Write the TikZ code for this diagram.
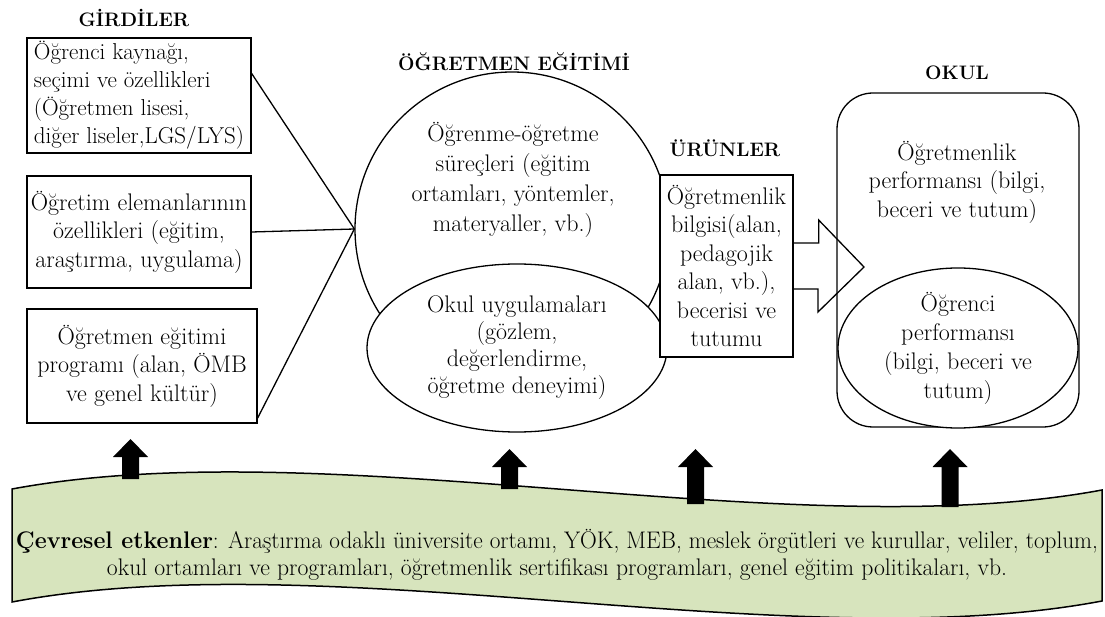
\documentclass[tikz,border=0pt]{standalone}
\usepackage{fontspec}
\usepackage{graphicx}
\usetikzlibrary{shapes.geometric}
\definecolor{wavegreen}{HTML}{D7E4BD}
\newcommand{\myBody}{\fontsize{24}{28.5}\selectfont}
\newcommand{\myTitle}{\fontsize{19.5}{22}\selectfont\bfseries}
\newcommand{\UpArrowBlk}[3]{\fill (#1-8.5,#3) -- (#1-8.5,#2+18) -- (#1-17.5,#2+18) -- (#1,#2) -- (#1+17.5,#2+18) -- (#1+8.5,#2+18) -- (#1+8.5,#3) -- cycle;}
\begin{document}
\begin{tikzpicture}[x=1pt,y=-1pt,
  box/.style={draw, line width=1.3pt, fill=white, inner sep=0pt, align=center, font=\myBody},
  title/.style={font=\myTitle, inner sep=0pt},
  txt/.style={font=\myBody, align=center, inner sep=0pt},
  shp/.style={draw, line width=1.3pt, fill=white, inner sep=0pt},
  conn/.style={line width=1.3pt}]
\useasboundingbox (0,0) rectangle (1105,617);

% titles
\node[title] (tgir) at (134,18) {GİRDİLER};
\node[title] (togr) at (514,62) {ÖĞRETMEN EĞİTİMİ};
\node[title] (turu) at (725,148) {ÜRÜNLER};
\node[title] (tokul) at (957,73) {OKUL};

% input boxes
\node[box, minimum width=224pt, minimum height=115pt, font=\fontsize{23}{28}\selectfont] (b1) at (139,95.5)
  {\raisebox{-4pt}{\begin{tabular}{@{}l@{}}Öğrenci kaynağı,\\seçimi ve özellikleri\\(Öğretmen lisesi,\\diğer liseler,LGS/LYS)\end{tabular}}};
\node[box, minimum width=224pt, minimum height=112pt] (b2) at (139,232)
  {Öğretim elemanlarının\\özellikleri (eğitim,\\araştırma, uygulama)};
\node[box, minimum width=230pt, minimum height=114pt] (b3) at (142,366)
  {Öğretmen eğitimi\\programı (alan, ÖMB\\ve genel kültür)};

% big circle
\node[shp, circle, minimum size=314pt] (c) at (512,229) {};
\node[txt, font=\fontsize{24}{30}\selectfont] (ctext) at (513,180)
  {Öğrenme-öğretme\\süreçleri (eğitim\\ortamları, yöntemler,\\materyaller, vb.)};

% connectors
\draw[conn] ([yshift=22pt]b1.east) -- (c.west);
\draw[conn] (b2.east) -- (c.west);
\draw[conn] ([yshift=-52pt]b3.east) -- (c.west);

% small ellipse
\node[shp, ellipse, minimum width=300pt, minimum height=168pt, align=center,
  font=\fontsize{24}{27}\selectfont] (e) at (517,348)
  {Okul uygulamaları\\(gözlem,\\değerlendirme,\\öğretme deneyimi)};

% products box
\node[box, minimum width=133pt, minimum height=182pt] (b4) at (726.5,266)
  {Öğretmenlik\\bilgisi(alan,\\pedagojik\\alan, vb.),\\becerisi ve\\tutumu};

% block arrow
\coordinate (tip) at (864,267);
\draw[conn, line join=miter] (b4.east) ++(0,-23) -- ++(25,0) -- ++(0,-23) -- (tip)
  -- (818,312) -- (818,289) -- (793,289);

% school
\node[draw, line width=1.3pt, rounded corners=36pt, minimum width=242pt, minimum height=334pt] (okul) at (958,260) {};
\node[txt] (tperf) at (957,182) {Öğretmenlik\\performansı (bilgi,\\beceri ve tutum)};
\node[shp, ellipse, minimum width=240pt, minimum height=160pt, align=center,
  font=\fontsize{24}{29}\selectfont] (sperf) at (958,348)
  {Öğrenci\\performansı\\(bilgi, beceri ve\\tutum)};

% wave
\draw[line width=1.5pt, fill=wavegreen] (12,489) .. controls (330,430) and (790,548) .. (1102,490)
  -- (1102,601) .. controls (790,660) and (330,542) .. (12,602) -- cycle;
\node[inner sep=0pt, align=center, font=\fontsize{24}{27}\selectfont] (env) at (557,555)
  {\resizebox{1082pt}{\height}{\textbf{Çevresel etkenler}: Araştırma odaklı üniversite ortamı, YÖK, MEB, meslek örgütleri ve kurullar, veliler, toplum,}\\
   \resizebox{900pt}{\height}{okul ortamları ve programları, öğretmenlik sertifikası programları, genel eğitim politikaları, vb.}};

% black up arrows
\UpArrowBlk{130.5}{439}{479}
\UpArrowBlk{509.5}{449}{489}
\UpArrowBlk{695.5}{449}{504}
\UpArrowBlk{950}{449}{507}
\end{tikzpicture}
\end{document}
